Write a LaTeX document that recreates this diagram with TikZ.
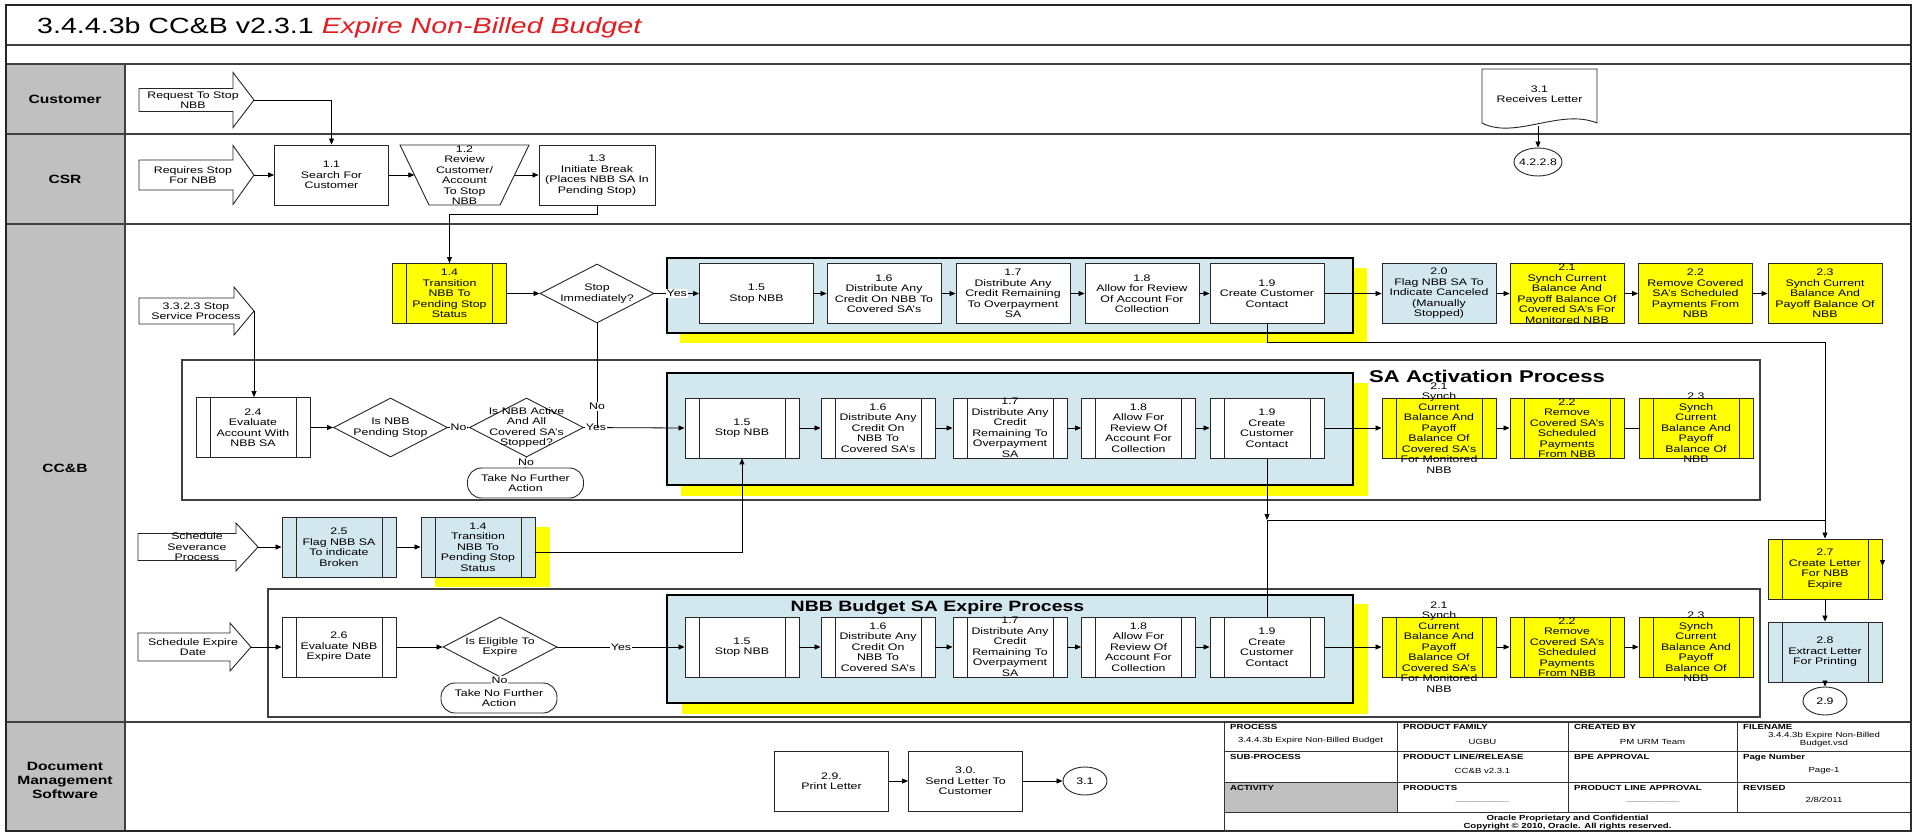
\documentclass[tikz,border=0pt]{standalone}
\usepackage{fontspec}
\setmainfont{Liberation Sans}[FakeStretch=1.3]
\usetikzlibrary{shapes.geometric,arrows.meta}
\definecolor{ylw}{RGB}{255,255,0}
\definecolor{lblue}{RGB}{211,231,239}
\definecolor{lanegrey}{RGB}{192,192,192}
\definecolor{titlered}{RGB}{226,28,33}
\newcommand{\boxfont}{\fontsize{9.5}{10.5}\selectfont}
\newcommand{\tabfont}{\fontsize{7.4}{8}\selectfont}
\newcommand{\blockarrow}[9]{%
  \draw[barrow] ({#2},{#5-#6}) -- ({#3},{#5-#6}) -- ({#3},{#5-#7}) -- ({#4},{#5}) -- ({#3},{#5+#7}) -- ({#3},{#5+#6}) -- ({#2},{#5+#6}) -- cycle;
  \coordinate (#1tip) at ({#4},{#5});
  \node[txt] (#1) at ({#9},{#5}) {#8};
}
\tikzset{
  txt/.style={font=\boxfont, align=center, inner sep=0pt},
  T/.style={label={[txt]center:{#1}}},
  box/.style={rectangle, draw=black!85, line width=0.9pt, fill=white, minimum width=114pt, minimum height=60pt, inner sep=0pt},
  bars/.style={path picture={\draw[black!85, line width=0.9pt]
     ([xshift=14pt]path picture bounding box.north west) -- ([xshift=14pt]path picture bounding box.south west)
     ([xshift=-14pt]path picture bounding box.north east) -- ([xshift=-14pt]path picture bounding box.south east);}},
  ghost/.style={rectangle, draw=none, inner sep=0pt},
  dia/.style={diamond, draw=black!85, line width=0.9pt, fill=white, minimum width=114pt, minimum height=59pt, inner sep=0pt},
  term/.style={rectangle, rounded corners=14pt, draw=black!85, line width=0.9pt, fill=white, minimum width=116pt, minimum height=30pt, inner sep=0pt},
  circ/.style={ellipse, draw=black!85, line width=0.9pt, fill=white, minimum width=44pt, minimum height=28pt, inner sep=0pt},
  barrow/.style={draw=black!85, line width=0.9pt, fill=white},
  shapeline/.style={draw=black!85, line width=0.9pt, fill=white},
  cont/.style={draw=black, line width=1.8pt, fill=lblue},
  sframe/.style={draw=black!75, line width=1.8pt},
  arr/.style={draw=black, line width=0.8pt, -{Triangle[length=6pt,width=5pt]}},
  plain/.style={draw=black, line width=0.8pt},
  lbl/.style={fill=white, font=\boxfont, inner sep=1pt},
  lanel/.style={draw=black!75, line width=1.3pt},
  lanelab/.style={font=\bfseries\fontsize{12}{14}\selectfont, align=center, inner sep=0pt},
  thdr/.style={font=\bfseries\tabfont, anchor=north west, inner sep=0pt},
  tval/.style={font=\tabfont, align=center, inner sep=0pt},
  tbl/.style={draw=black!80, line width=0.9pt}
}
\begin{document}
\begin{tikzpicture}[x=1pt,y=-1pt]
\useasboundingbox (0,0) rectangle (1917,836);
\fill[white] (0,0) rectangle (1917,836);
% ---------- lanes ----------
\fill[lanegrey] (6,64) rectangle (125,831);
\fill[lanegrey] (1224,782) rectangle (1397,812);
\foreach \yy in {45,64,134,224,722} \draw[lanel] (6,\yy) -- (1911,\yy);
\draw[lanel] (125,64) -- (125,831);
\draw[line width=1.6pt, black!85] (6,5) rectangle (1911,831);
\node[anchor=base west, font=\fontsize{22}{26}\selectfont, inner sep=0pt] (title) at (37,33)
  {3.4.4.3b CC\&B v2.3.1 \textcolor{titlered}{\itshape Expire Non-Billed Budget}};
\node[lanelab] (lCust) at (65,99) {Customer};
\node[lanelab] (lCSR) at (65,179) {CSR};
\node[lanelab] (lCCB) at (65,468) {CC\&B};
\node[lanelab] (lDMS) at (65,780) {Document\\Management\\Software};

% ---------- Customer lane ----------
\blockarrow{aReq}{139}{233}{254}{100}{11.5}{27.5}{Request To Stop\\NBB}{193}
\draw[shapeline] (1482,69) -- (1597,69) -- (1597,123) .. controls (1560,108) and (1515,140) .. (1482,123) -- cycle;
\node[ghost, minimum width=115pt, minimum height=50pt, T={3.1\\Receives Letter}] (doc31) at (1539.5,94) {};
\coordinate (doc31b) at (1538,126);
\node[circ, minimum width=48pt, T={4.2.2.8}] (c4228) at (1538,162) {};

% ---------- CSR lane ----------
\blockarrow{aRqs}{139}{233}{254}{175}{15}{29.5}{Requires Stop\\For NBB}{193}
\node[box, T={1.1\\Search For\\Customer}] (b11) at (331.5,175) {};
\draw[shapeline] (400,145) -- (529,145) -- (500,205) -- (429,205) -- cycle;
\node[ghost, minimum width=100pt, minimum height=60pt, T={1.2\\Review\\Customer/\\Account\\To Stop\\NBB}] (t12) at (464.5,175) {};
\node[box, minimum width=116pt, T={1.3\\Initiate Break\\(Places NBB SA In\\Pending Stop)}] (b13) at (597,175) {};

% ---------- CC&B top row ----------
\blockarrow{aSvc}{139}{234}{254}{311}{13}{24}{3.3.2.3 Stop\\Service Process}{196}
\node[box, bars, fill=ylw, T={1.4\\Transition\\NBB To\\Pending Stop\\Status}] (b14a) at (449.5,293.5) {};
\node[dia, T={Stop\\Immediately?}] (dStop) at (597,293.5) {};
\fill[ylw] (680,268) rectangle (1367,343);
\draw[cont] (667,258) rectangle (1353,333);
\node[box, T={1.5\\Stop NBB}] (t15) at (756.5,293.5) {};
\node[box, T={1.6\\Distribute Any\\Credit On NBB To\\Covered SA's}] (t16) at (884,293.5) {};
\node[box, T={1.7\\Distribute Any\\Credit Remaining\\To Overpayment\\SA}] (t17) at (1013,293.5) {};
\node[box, T={1.8\\Allow for Review\\Of Account For\\Collection}] (t18) at (1142,293.5) {};
\node[box, T={1.9\\Create Customer\\Contact}] (t19) at (1267,293.5) {};
\node[box, fill=lblue, T={2.0\\Flag  NBB SA To\\Indicate Canceled\\(Manually\\Stopped)}] (t20) at (1439,293.5) {};
\node[box, fill=ylw, T={2.1\\Synch Current\\Balance And\\Payoff Balance Of\\Covered SA's For\\Monitored NBB}] (t21) at (1567,293.5) {};
\node[box, fill=ylw, T={2.2\\Remove Covered\\SA's Scheduled\\Payments  From\\NBB}] (t22) at (1695.5,293.5) {};
\node[box, fill=ylw, T={2.3\\Synch Current\\Balance And\\Payoff Balance  Of\\NBB}] (t23) at (1825,293.5) {};
\coordinate (k1) at (1267,342);
\coordinate (k2) at (1825,342);

% ---------- SA Activation Process ----------
\draw[sframe] (182,360) rectangle (1760,500);
\node[anchor=west, font=\bfseries\fontsize{17}{20}\selectfont, inner sep=0pt] (saTitle) at (1369,376) {SA Activation Process};
\node[box, bars, T={2.4\\Evaluate\\Account With\\NBB SA}] (s24) at (253,427.5) {};
\node[dia, T={Is NBB\\Pending Stop}] (dPend) at (390.5,427.5) {};
\node[dia, T={Is NBB Active\\And All\\Covered SA's\\Stopped?}] (dAct) at (526.5,427.5) {};
\node[term, T={Take No Further\\Action}] (tNo1) at (525.5,483) {};
\fill[ylw] (681,383) rectangle (1368,496);
\draw[cont] (667,373) rectangle (1353,485);
\node[box, bars, T={1.5\\Stop NBB}] (s15) at (742,428) {};
\node[box, bars, T={1.6\\Distribute Any\\Credit On\\NBB To\\Covered SA's}] (s16) at (878,428) {};
\node[box, bars, T={1.7\\Distribute Any\\Credit\\Remaining To\\Overpayment\\SA}] (s17) at (1010,428) {};
\node[box, bars, T={1.8\\Allow For\\Review Of\\Account For\\Collection}] (s18) at (1138.5,428) {};
\node[box, bars, T={1.9\\Create\\Customer\\Contact}] (s19) at (1267,428) {};
\node[box, bars, fill=ylw, T={2.1\\Synch\\Current\\Balance And\\Payoff\\Balance Of\\Covered SA's\\For Monitored\\NBB}] (s21) at (1439,428) {};
\node[box, bars, fill=ylw, T={2.2\\Remove\\Covered SA's\\Scheduled\\Payments\\From NBB}] (s22) at (1567,428) {};
\node[box, bars, fill=ylw, T={2.3\\Synch\\Current\\Balance And\\Payoff\\Balance Of\\NBB}] (s23) at (1696,428) {};
\coordinate (j1) at (1267,520);
\coordinate (j2) at (1825,520);

% ---------- middle row ----------
\blockarrow{aSev}{138}{236}{258}{547}{13.5}{24}{Schedule\\Severance\\Process}{197}
\node[box, bars, fill=lblue, T={2.5\\Flag NBB SA\\To indicate\\Broken}] (m25) at (339,547) {};
\fill[ylw] (435,527) rectangle (550,587);
\node[box, bars, fill=lblue, T={1.4\\Transition\\NBB To\\Pending Stop\\Status}] (m14) at (478,547) {};

% ---------- NBB Budget SA Expire Process ----------
\draw[sframe] (268,589) rectangle (1760,717);
\fill[ylw] (682,604) rectangle (1368,714);
\draw[cont] (667,595) rectangle (1353,703);
\node[font=\bfseries\fontsize{15}{18}\selectfont, inner sep=0pt] (nbbTitle) at (937.5,608) {NBB Budget SA Expire Process};
\blockarrow{aExp}{138}{230}{251}{647}{14}{24}{Schedule Expire\\Date}{193}
\node[box, bars, T={2.6\\Evaluate NBB\\Expire Date}] (n26) at (339,647) {};
\node[dia, minimum height=60pt, T={Is Eligible To\\Expire}] (dElig) at (500,647) {};
\node[term, T={Take No Further\\Action}] (tNo2) at (499,698) {};
\node[box, bars, T={1.5\\Stop NBB}] (n15) at (742,647) {};
\node[box, bars, T={1.6\\Distribute Any\\Credit On\\NBB To\\Covered SA's}] (n16) at (878,647) {};
\node[box, bars, T={1.7\\Distribute Any\\Credit\\Remaining To\\Overpayment\\SA}] (n17) at (1010,647) {};
\node[box, bars, T={1.8\\Allow For\\Review Of\\Account For\\Collection}] (n18) at (1138.5,647) {};
\node[box, bars, T={1.9\\Create\\Customer\\Contact}] (n19) at (1267,647) {};
\node[box, bars, fill=ylw, T={2.1\\Synch\\Current\\Balance And\\Payoff\\Balance Of\\Covered SA's\\For Monitored\\NBB}] (n21) at (1439,647) {};
\node[box, bars, fill=ylw, T={2.2\\Remove\\Covered SA's\\Scheduled\\Payments\\From NBB}] (n22) at (1567,647) {};
\node[box, bars, fill=ylw, T={2.3\\Synch\\Current\\Balance And\\Payoff\\Balance  Of\\NBB}] (n23) at (1696,647) {};

% ---------- right column ----------
\node[box, bars, fill=ylw, T={2.7\\Create Letter\\For NBB\\Expire}] (r27) at (1825,569) {};
\node[box, bars, fill=lblue, T={2.8\\Extract Letter\\For Printing}] (r28) at (1825,652) {};
\node[circ, T={2.9}] (c29) at (1825,701) {};

% ---------- Document Management ----------
\node[box, T={2.9.\\Print Letter}] (d29) at (831.5,781) {};
\node[box, T={3.0.\\Send Letter To\\Customer}] (d30) at (965.5,781) {};
\node[circ, T={3.1}] (c31) at (1085,781) {};

% ---------- connectors ----------
\draw[arr] (doc31b) -- (c4228.north);
\draw[arr] (aReqtip) -| (b11.north);
\draw[arr] (aRqstip) -- (b11.west);
\draw[arr] (b11.east) -- (t12.west);
\draw[arr] (t12.east) -- (b13.west);
\draw[arr] (b13.south) -- ++(0,9) -| (b14a.north);
\draw[arr] (b14a.east) -- (dStop.west);
\draw[arr] (dStop.east) -- node[lbl]{Yes} (t15.west);
\foreach \a/\b in {t15/t16,t16/t17,t17/t18,t18/t19,t19/t20,t20/t21,t21/t22,t22/t23}
  \draw[arr] (\a.east) -- (\b.west);
\draw[arr] (t19.south) -- (k1) -- (k2) -- (r27.north);
\draw[arr] (aSvctip) -- (aSvctip |- s24.north);
\draw[arr] (s24.east) -- (dPend.west);
\draw[arr] (dPend.east) -- node[lbl]{No} (dAct.west);
\draw[arr] (dAct.east) -- node[lbl, pos=0.12]{Yes} (s15.west);
\draw[plain] (dStop.south) -- node[lbl, pos=0.8]{No} (dStop.south |- dAct.east);
\draw[plain] (dAct.south) -- node[lbl]{No} (tNo1.north);
\foreach \a/\b in {s15/s16,s16/s17,s17/s18,s18/s19,s19/s21,s21/s22}
  \draw[arr] (\a.east) -- (\b.west);
\draw[plain] (s22.east) -- (s23.west);
\draw[arr] (s19.south) -- (j1);
\draw[plain] (j1) -- (j2);
\draw[arr] (aSevtip) -- (m25.west);
\draw[arr] (m25.east) -- (m14.west);
\draw[arr] ([yshift=-5pt]m14.east) -| (s15.south);
\draw[arr] (aExptip) -- (n26.west);
\draw[arr] (n26.east) -- (dElig.west);
\draw[arr] (dElig.east) -- node[lbl]{Yes} (n15.west);
\draw[plain] (dElig.south) -- node[lbl]{No} (tNo2.north);
\foreach \a/\b in {n15/n16,n16/n17,n17/n18,n18/n19,n19/n21,n21/n22,n22/n23}
  \draw[arr] (\a.east) -- (\b.west);
\draw[plain] (n19.north) -- (j1);
\draw[arr] (r27.south) -- (r28.north);
\draw[arr] (r28.south) -- (c29.north);
\draw[arr] ([yshift=8pt]r27.east) -- ([yshift=3pt]r27.east);
\draw[arr] (d29.east) -- (d30.west);
\draw[arr] (d30.east) -- (c31.west);

% ---------- title block table ----------
\draw[tbl] (1224,722) rectangle (1911,831);
\foreach \yy in {751,782,812} \draw[tbl] (1224,\yy) -- (1911,\yy);
\foreach \xx in {1397,1568,1737} \draw[tbl] (\xx,722) -- (\xx,812);
\node[thdr] (h11) at (1230,724) {PROCESS};
\node[thdr] (h12) at (1403,724) {PRODUCT FAMILY};
\node[thdr] (h13) at (1574,724) {CREATED BY};
\node[thdr] (h14) at (1743,724) {FILENAME};
\node[thdr] (h21) at (1230,754) {SUB-PROCESS};
\node[thdr] (h22) at (1403,754) {PRODUCT LINE/RELEASE};
\node[thdr] (h23) at (1574,754) {BPE APPROVAL};
\node[thdr] (h24) at (1743,754) {Page Number};
\node[thdr] (h31) at (1230,785) {ACTIVITY};
\node[thdr] (h32) at (1403,785) {PRODUCTS};
\node[thdr] (h33) at (1574,785) {PRODUCT LINE APPROVAL};
\node[thdr] (h34) at (1743,785) {REVISED};
\node[tval] (v11) at (1310.5,741) {3.4.4.3b Expire Non-Billed Budget};
\node[tval] (v12) at (1482.5,742) {UGBU};
\node[tval] (v13) at (1652.5,742) {PM URM Team};
\node[tval] (v14) at (1824,740) {3.4.4.3b Expire Non-Billed\\Budget.vsd};
\node[tval] (v22) at (1482.5,771) {CC\&B v2.3.1};
\node[tval] (v24) at (1824,771) {Page-1};
\node[tval, text=black!50] (v32) at (1482.5,801) {\_\_\_\_\_\_\_\_\_\_};
\node[tval, text=black!50] (v33) at (1652.5,801) {\_\_\_\_\_\_\_\_\_\_};
\node[tval] (v34) at (1824,800) {2/8/2011};
\node[tval, font=\bfseries\tabfont] (v41) at (1567.5,822.5) {Oracle Proprietary and Confidential\\Copyright © 2010, Oracle. All rights reserved.};
\end{tikzpicture}
\end{document}
